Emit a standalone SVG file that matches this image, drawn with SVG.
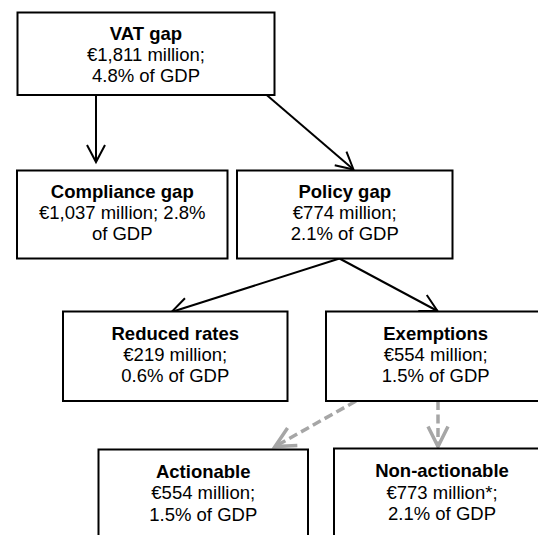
<svg xmlns="http://www.w3.org/2000/svg" width="538" height="535" viewBox="0 0 538 535">
<style>
.box{fill:#fff;stroke:#000;stroke-width:2}
.t{font-family:"Liberation Sans",Arial,sans-serif;font-size:18.5px;fill:#000;text-anchor:middle}
.b{font-weight:bold}
.a{fill:none;stroke:#000;stroke-width:2}
.d{fill:none;stroke:#a6a6a6;stroke-width:3.5;stroke-dasharray:9 4.5}
</style>
<defs>
<marker id="ah" markerUnits="userSpaceOnUse" viewBox="-20 -12 22 24" refX="0" refY="0" markerWidth="22" markerHeight="24" orient="auto" overflow="visible">
<path d="M-17,-9 L0,0 L-17,9" fill="none" stroke="#000" stroke-width="2"/>
</marker>
<marker id="ahg" markerUnits="userSpaceOnUse" viewBox="-24 -12 26 24" refX="0" refY="0" markerWidth="26" markerHeight="24" orient="auto" overflow="visible">
<path d="M-20,-10 L0,0 L-20,10" fill="none" stroke="#a6a6a6" stroke-width="3.5"/>
</marker>
</defs>
<rect width="538" height="535" fill="#fff"/>
<g id="connectors">
<line class="a" x1="96" y1="95" x2="96" y2="162" marker-end="url(#ah)"/>
<line class="a" x1="266.7" y1="95" x2="353.5" y2="169.5" marker-end="url(#ah)"/>
<line class="a" x1="339.5" y1="258.5" x2="171.5" y2="312" marker-end="url(#ah)"/>
<line class="a" x1="339.5" y1="258.5" x2="437.5" y2="311" marker-end="url(#ah)"/>
<line class="d" x1="356" y1="401" x2="275" y2="446.5" marker-end="url(#ahg)"/>
<line class="d" x1="438" y1="401" x2="438" y2="446.5" marker-end="url(#ahg)"/>
</g>
<g id="vat-gap">
<rect class="box" x="17.5" y="12.5" width="257" height="82.5"/>
<text class="t b" x="146" y="39.5">VAT gap</text>
<text class="t" x="146" y="60.5">€1,811 million;</text>
<text class="t" x="146" y="81.5">4.8% of GDP</text>
</g>
<g id="compliance-gap">
<rect class="box" x="17" y="170.5" width="210.5" height="88"/>
<text class="t b" x="122.25" y="198">Compliance gap</text>
<text class="t" x="122.25" y="219">€1,037 million; 2.8%</text>
<text class="t" x="122.25" y="240">of GDP</text>
</g>
<g id="policy-gap">
<rect class="box" x="237" y="170.5" width="215.5" height="88"/>
<text class="t b" x="344.75" y="198">Policy gap</text>
<text class="t" x="344.75" y="219">€774 million;</text>
<text class="t" x="344.75" y="240">2.1% of GDP</text>
</g>
<g id="reduced-rates">
<rect class="box" x="63" y="311.5" width="224.5" height="89.5"/>
<text class="t b" x="175.25" y="339.5">Reduced rates</text>
<text class="t" x="175.25" y="360.5">€219 million;</text>
<text class="t" x="175.25" y="381.5">0.6% of GDP</text>
</g>
<g id="exemptions">
<rect class="box" x="326" y="311.5" width="219.5" height="89.5"/>
<text class="t b" x="435.7" y="339.5">Exemptions</text>
<text class="t" x="435.7" y="360.5">€554 million;</text>
<text class="t" x="435.7" y="381.5">1.5% of GDP</text>
</g>
<g id="actionable">
<rect class="box" x="98.5" y="449.5" width="209.5" height="100"/>
<text class="t b" x="203.25" y="477.5">Actionable</text>
<text class="t" x="203.25" y="499">€554 million;</text>
<text class="t" x="203.25" y="520.5">1.5% of GDP</text>
</g>
<g id="non-actionable">
<rect class="box" x="334" y="448.5" width="216" height="100"/>
<text class="t b" x="442" y="476.5">Non-actionable</text>
<text class="t" x="442" y="498.5">€773 million*;</text>
<text class="t" x="442" y="520">2.1% of GDP</text>
</g>
</svg>
